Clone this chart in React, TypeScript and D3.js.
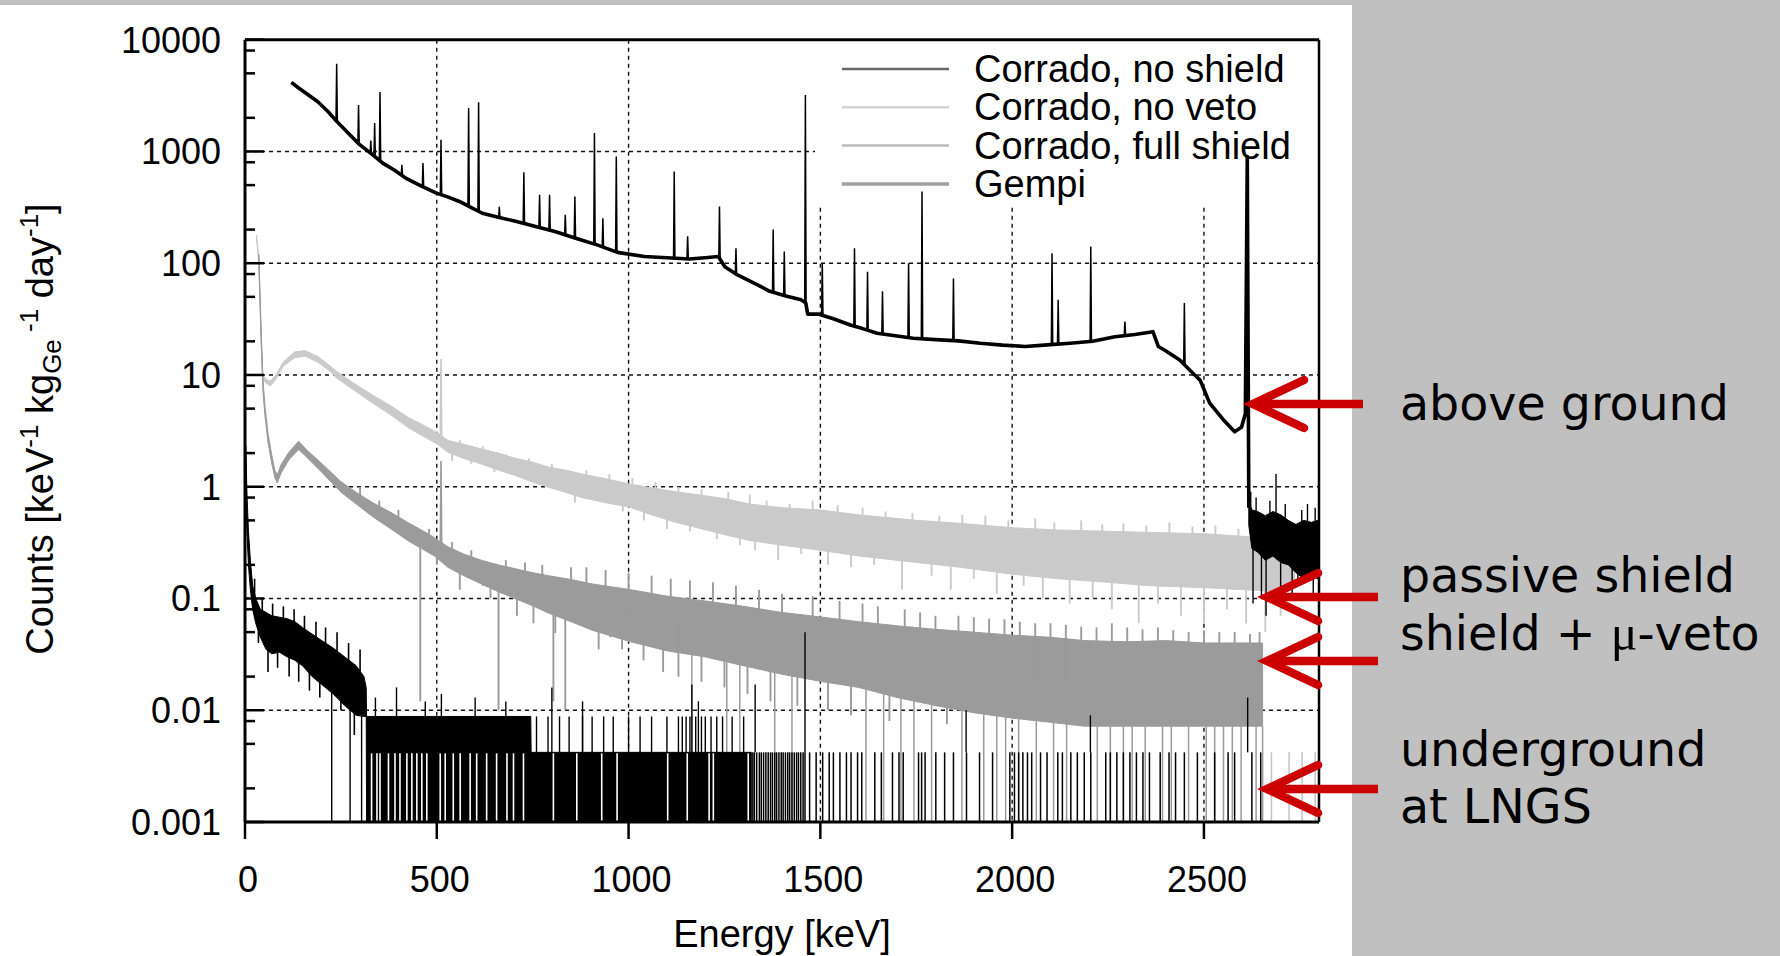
import React from 'react';
import * as d3 from 'd3';

// ---------- layout ----------
const W = 1780, H = 956;
const PL = 245, PR = 1319, PT = 39.7, PB = 822;

// ---------- axes / labels ----------
const X_DOMAIN: [number, number] = [0, 2800];
const Y_DOMAIN: [number, number] = [0.001, 10000];
const xTicks = [0, 500, 1000, 1500, 2000, 2500];
const yTicks = [0.001, 0.01, 0.1, 1, 10, 100, 1000, 10000];
const yTickLabels = ['0.001', '0.01', '0.1', '1', '10', '100', '1000', '10000'];
const minorMultipliers = [2, 5, 8];
const legendLabels = ['Corrado, no shield', 'Corrado, no veto', 'Corrado, full shield', 'Gempi'];
const legendColors = ['#6a6a6a', '#d4d4d4', '#bcbcbc', '#a0a0a0'];
const legendWidths = [2.5, 2.5, 2.5, 3.5];

// ---------- Corrado, no shield (above ground) ----------
const nsE = [121, 140, 160, 189, 215, 239, 270, 299, 330, 359, 390, 419, 460, 499, 530, 559, 590, 619, 660, 708, 760, 808, 860, 918, 971, 1041, 1100, 1158, 1200, 1234, 1251, 1280, 1310, 1340, 1368, 1410, 1450, 1462, 1467, 1496, 1532, 1578, 1610, 1648, 1700, 1742, 1812, 1860, 1917, 1975, 2034, 2092, 2151, 2210, 2268, 2320, 2367, 2381, 2396, 2437, 2472, 2490, 2515, 2550, 2580, 2598, 2608, 2613, 2617];
const nsV = [4150, 3700, 3300, 2800, 2300, 1860, 1450, 1150, 950, 787, 680, 577, 490, 424, 390, 357, 315, 280, 258, 236, 212, 192, 168, 146, 125, 115, 112, 109, 112, 115, 93, 80, 71, 63, 56, 51, 47, 44, 35, 35, 32, 28, 26, 23.6, 22.3, 21.3, 20.6, 20.2, 19.2, 18.5, 18, 18.6, 19.2, 20, 22, 23, 24.4, 18, 16.8, 13.6, 10.3, 9, 5.6, 4.0, 3.1, 3.4, 4.5, 900, 0.65];
const nsPeakE = [239, 296, 328, 338, 352, 409, 464, 511, 583, 609, 663, 727, 768, 794, 835, 860, 911, 933, 968, 1119, 1154, 1237, 1280, 1377, 1406, 1461, 1505, 1589, 1623, 1662, 1730, 1765, 1847, 2104, 2120, 2205, 2294, 2449];
const nsPeakV = [6100, 2600, 1250, 1800, 3400, 760, 790, 1270, 2450, 2750, 320, 650, 410, 410, 271, 395, 1460, 253, 900, 660, 174, 321, 136, 200, 127, 3200, 100, 136, 84, 56, 100, 438, 73, 123, 47, 141, 30, 44];
const nsTailE = [2617, 2625, 2640, 2660, 2680, 2700, 2720, 2740, 2760, 2780, 2798];
const nsTailLo = [0.45, 0.28, 0.26, 0.22, 0.24, 0.21, 0.2, 0.17, 0.15, 0.16, 0.15];
const nsTailHi = [0.75, 0.62, 0.6, 0.55, 0.6, 0.56, 0.5, 0.46, 0.5, 0.48, 0.5];
const nsTailSpikeE = [2622, 2628, 2636, 2650, 2662, 2672, 2688, 2700, 2712, 2730, 2745, 2755, 2770, 2785, 2790];
const nsTailSpikeV = [0.9, 0.09, 0.8, 0.1, 0.07, 0.75, 1.3, 0.12, 0.7, 0.11, 0.13, 0.62, 0.7, 0.1, 0.65];

// ---------- Corrado, no veto ----------
const nvE = [30, 36, 42, 46, 55, 66, 80, 100, 130, 157, 190, 220, 240, 280, 336, 380, 424, 470, 502, 529, 570, 616, 660, 704, 750, 791, 840, 878, 940, 1001, 1060, 1123, 1190, 1254, 1316, 1400, 1500, 1600, 1751, 1866, 2000, 2120, 2244, 2360, 2500, 2600, 2700, 2737];
const nvLo = [162, 105, 20.5, 9.2, 8.4, 8.0, 9.1, 12.0, 14.3, 14.7, 13.0, 10.9, 9.3, 7.5, 5.5, 4.4, 3.4, 2.76, 2.4, 2.03, 1.79, 1.6, 1.41, 1.26, 1.1, 0.99, 0.88, 0.8, 0.72, 0.66, 0.56, 0.48, 0.42, 0.37, 0.33, 0.3, 0.27, 0.24, 0.21, 0.19, 0.165, 0.15, 0.14, 0.13, 0.125, 0.12, 0.115, 0.13];
const nvHi = [178, 115, 23.6, 10, 9.2, 8.8, 9.9, 13.1, 16.1, 16.5, 14.6, 12.2, 10.7, 8.6, 6.5, 5.3, 4.2, 3.48, 3.03, 2.6, 2.4, 2.18, 2.0, 1.8, 1.66, 1.5, 1.4, 1.3, 1.18, 1.06, 0.98, 0.9, 0.84, 0.78, 0.7, 0.65, 0.62, 0.56, 0.5, 0.47, 0.43, 0.41, 0.4, 0.39, 0.38, 0.36, 0.34, 0.28];
const nvPeakE = [511];
const nvPeakV = [14];
const nvSpikeE = [540, 560, 590, 620, 650, 680, 720, 740, 770, 800, 830, 860, 890, 920, 950, 985, 1010, 1040, 1070, 1100, 1130, 1160, 1190, 1230, 1260, 1290, 1316, 1330, 1360, 1390, 1420, 1450, 1480, 1520, 1545, 1580, 1610, 1640, 1670, 1713, 1740, 1790, 1810, 1840, 1870, 1900, 1930, 1960, 1990, 2030, 2060, 2080, 2110, 2150, 2180, 2210, 2235, 2260, 2290, 2330, 2350, 2380, 2410, 2440, 2470, 2500, 2530, 2560, 2590, 2610, 2640, 2660, 2690, 2700, 2720];
const nvSpikeV = [1.7, 2.6, 1.6, 2.3, 1.35, 1.95, 1.2, 1.8, 1.05, 1.6, 0.9, 0.72, 1.4, 0.78, 1.3, 0.6, 1.2, 0.5, 1.1, 0.42, 1.0, 0.4, 0.95, 0.34, 0.9, 0.3, 0.85, 0.27, 0.75, 0.22, 0.7, 0.25, 0.75, 0.2, 0.68, 0.19, 0.65, 0.2, 0.6, 0.12, 0.58, 0.16, 0.55, 0.12, 0.56, 0.15, 0.55, 0.11, 0.5, 0.13, 0.52, 0.1, 0.48, 0.09, 0.5, 0.1, 0.46, 0.08, 0.47, 0.06, 0.45, 0.09, 0.48, 0.07, 0.44, 0.06, 0.45, 0.08, 0.42, 0.06, 0.4, 0.05, 0.38, 0.07, 0.35];
const nvZeroE = [2676, 2722, 2756, 2790];

// ---------- Corrado, full shield ----------
const fsE = [36, 42, 47, 52, 60, 70, 78, 84, 95, 115, 140, 160, 197, 249, 290, 336, 380, 424, 460, 494, 529, 570, 616, 660, 704, 750, 791, 850, 905, 1005, 1100, 1200, 1300, 1400, 1506, 1600, 1700, 1800, 1900, 2000, 2100, 2188, 2300, 2400, 2500, 2600, 2653];
const fsLo = [100, 20, 7, 4.3, 2.5, 1.6, 1.2, 1.08, 1.35, 1.75, 2.15, 1.85, 1.38, 0.9, 0.7, 0.53, 0.42, 0.33, 0.28, 0.24, 0.19, 0.16, 0.135, 0.115, 0.1, 0.086, 0.074, 0.062, 0.052, 0.041, 0.034, 0.03, 0.025, 0.021, 0.018, 0.016, 0.013, 0.011, 0.0095, 0.0085, 0.0078, 0.0072, 0.0072, 0.0072, 0.0072, 0.0072, 0.0072];
const fsHi = [120, 26, 9, 5.3, 3.0, 1.9, 1.4, 1.28, 1.6, 2.05, 2.55, 2.15, 1.65, 1.12, 0.89, 0.71, 0.59, 0.48, 0.41, 0.35, 0.29, 0.25, 0.22, 0.2, 0.185, 0.17, 0.16, 0.148, 0.135, 0.12, 0.105, 0.095, 0.085, 0.075, 0.068, 0.062, 0.057, 0.053, 0.05, 0.047, 0.045, 0.042, 0.041, 0.042, 0.04, 0.04, 0.04];
const fsPeakE = [511];
const fsPeakV = [1.7];
const fsSpikeE = [300, 320, 350, 370, 400, 430, 457, 480, 500, 540, 560, 590, 620, 640, 661, 680, 709, 730, 752, 775, 804, 809, 835, 850, 870, 890, 922, 940, 952, 983, 1000, 1039, 1060, 1090, 1110, 1130, 1160, 1190, 1220, 1250, 1280, 1310, 1340, 1370, 1400, 1440, 1480, 1520, 1550, 1580, 1610, 1650, 1680, 1720, 1760, 1800, 1830, 1860, 1900, 1940, 1980, 2020, 2060, 2100, 2140, 2180, 2220, 2260, 2300, 2340, 2380, 2420, 2460, 2500, 2540, 2580, 2620, 2645];
const fsSpikeV = [1.0, 0.6, 0.75, 0.45, 0.62, 0.32, 0.012, 0.42, 0.2, 0.32, 0.12, 0.27, 0.13, 0.1, 0.01, 0.22, 0.07, 0.21, 0.06, 0.2, 0.012, 0.049, 0.01, 0.19, 0.06, 0.19, 0.035, 0.18, 0.045, 0.035, 0.17, 0.028, 0.16, 0.022, 0.15, 0.02, 0.145, 0.018, 0.14, 0.016, 0.13, 0.014, 0.12, 0.012, 0.11, 0.011, 0.105, 0.01, 0.095, 0.009, 0.09, 0.085, 0.008, 0.08, 0.075, 0.07, 0.0075, 0.07, 0.068, 0.066, 0.065, 0.062, 0.06, 0.06, 0.058, 0.056, 0.055, 0.06, 0.055, 0.053, 0.055, 0.052, 0.05, 0.052, 0.05, 0.05, 0.048, 0.05];
const fsZeroE = [1165, 1256, 1290, 1381, 1426, 1619, 1665, 1710, 1744, 1790, 1869, 1926, 1960, 1983, 2017, 2063, 2108, 2142, 2222, 2256, 2290, 2313, 2347, 2392, 2415, 2460, 2506, 2528, 2551, 2574, 2597, 2636, 2653];

// ---------- Gempi (underground at LNGS) ----------
const geE = [2, 5, 9, 14, 20, 28, 40, 55, 70, 90, 110, 130, 150, 175, 200, 230, 260, 290, 310, 316, 317, 745, 746, 1320];
const geLo = [1.2, 0.4, 0.2, 0.12, 0.08, 0.06, 0.045, 0.035, 0.032, 0.033, 0.03, 0.028, 0.025, 0.02, 0.017, 0.014, 0.011, 0.009, 0.0088, 0.0088, 0.001, 0.001, 0.001, 0.001];
const geHi = [2.3, 0.9, 0.4, 0.22, 0.13, 0.1, 0.08, 0.075, 0.07, 0.068, 0.066, 0.062, 0.055, 0.048, 0.042, 0.036, 0.03, 0.025, 0.02, 0.016, 0.0088, 0.0088, 0.0042, 0.0042];
const geOneCount = 0.0042;
const geTwoCount = 0.0088;
const geLowSpikeE = [25, 35, 45, 60, 72, 85, 100, 115, 128, 140, 155, 168, 185, 195, 210, 240, 250, 270, 285, 300];
const geLowSpikeV = [0.15, 0.04, 0.1, 0.022, 0.09, 0.024, 0.085, 0.02, 0.08, 0.018, 0.07, 0.015, 0.062, 0.013, 0.055, 0.05, 0.01, 0.04, 0.006, 0.035];
const geGapE = [330, 344, 352, 374, 391, 404, 422, 435, 448, 461, 474, 509, 522, 543, 561, 587, 604, 630, 656, 683, 700, 726, 804, 865, 930, 970, 1102, 1153, 1210, 1221, 1312];
const geTwoE = [760, 790, 820, 845, 880, 905, 935, 960, 1000, 1030, 1060, 1100, 1130, 1140, 1150, 1160, 1175, 1190, 1200, 1215, 1230, 1245, 1270, 1300];
const geLineE = [1324, 1328, 1334, 1341, 1346, 1352, 1358, 1364, 1370, 1375, 1381, 1386, 1392, 1398, 1403, 1409, 1415, 1420, 1426, 1432, 1438, 1443, 1449, 1455, 1460, 1472, 1489, 1506, 1523, 1534, 1551, 1568, 1580, 1597, 1608, 1642, 1659, 1688, 1705, 1716, 1756, 1764, 1773, 1801, 1824, 1847, 1881, 1915, 1949, 1994, 2006, 2017, 2028, 2040, 2051, 2074, 2091, 2119, 2131, 2153, 2170, 2188, 2205, 2244, 2256, 2273, 2290, 2307, 2324, 2341, 2358, 2386, 2409, 2426, 2449, 2483, 2528, 2563, 2580, 2625, 2648];
const geDropE = [226, 274, 304];
const geSpikeE = [340, 395, 470, 512, 600, 680, 800, 880, 1165, 1182, 1330, 1460, 1880, 2204, 2614];
const geSpikeV = [0.013, 0.016, 0.012, 0.014, 0.013, 0.012, 0.016, 0.012, 0.017, 0.012, 0.017, 0.05, 0.01, 0.009, 0.013];

// ---------- annotations ----------
const annoLines = [
  { text: 'above ground', y: 420 },
  { text: 'passive shield', y: 592 },
  { text: 'shield + ', mu: true, y: 650 },
  { text: 'underground', y: 766 },
  { text: 'at LNGS', y: 823 },
];
const arrows = [
  { tip: [1253, 404], end: 1363 },
  { tip: [1267, 597], end: 1378 },
  { tip: [1267, 661], end: 1378 },
  { tip: [1267, 789], end: 1378 },
];

function interpLog(E: number, es: number[], vs: number[]) {
  let i = d3.bisectLeft(es, E);
  i = Math.max(1, Math.min(es.length - 1, i));
  const t = Math.max(0, Math.min(1, (E - es[i - 1]) / (es[i] - es[i - 1])));
  const a = Math.log10(vs[i - 1]), b = Math.log10(vs[i]);
  return Math.pow(10, a + t * (b - a));
}

export default function App() {
  const x = d3.scaleLinear().domain(X_DOMAIN).range([PL, PR]);
  const y = d3.scaleLog().domain(Y_DOMAIN).range([PB, PT]).clamp(true);
  const line = d3.line<[number, number]>().x(d => x(d[0])).y(d => y(d[1]));
  const area = d3.area<[number, number, number]>().x(d => x(d[0])).y0(d => y(d[1])).y1(d => y(d[2]));

  const band = (es: number[], lo: number[], hi: number[]) =>
    area(es.map((e, i) => [e, lo[i], hi[i]] as [number, number, number])) || '';
  const mid = (es: number[], lo: number[], hi: number[]) => es.map((_, i) => Math.sqrt(lo[i] * hi[i]));

  const nvMid = mid(nvE, nvLo, nvHi);
  const fsMid = mid(fsE, fsLo, fsHi);
  const geMid = mid(geE, geLo, geHi);
  const nsTailMid = mid(nsTailE, nsTailLo, nsTailHi);

  const spikes = (es: number[], vs: number[], me: number[], mv: number[]) =>
    es.map((e, i) => ({ x: x(e), y1: y(interpLog(e, me, mv)), y2: y(vs[i]) }));
  const peaks = (es: number[], vs: number[], me: number[], mv: number[], w: number) =>
    es.map((e, i) => {
      const base = interpLog(e, me, mv);
      return line([[e - w, base], [e, vs[i]], [e + w, base]]) || '';
    });

  const minorTicks: number[] = [];
  for (let d = 0.001; d < 9000; d *= 10) minorMultipliers.forEach(m => minorTicks.push(d * m));

  const font = "'Liberation Sans', Arial, Helvetica, sans-serif";
  const NV = '#cacaca', FS = '#9b9b9b';

  return (
    <svg width={W} height={H} viewBox={`0 0 ${W} ${H}`} style={{ position: 'absolute', left: 0, top: 0, background: '#fff' }}>
      <defs>
        <clipPath id="plot"><rect x={PL} y={PT} width={PR - PL} height={PB - PT} /></clipPath>
      </defs>
      {/* backgrounds */}
      <rect x={0} y={0} width={W} height={H} fill="#ffffff" />
      <rect x={1352} y={0} width={W - 1352} height={H} fill="#c0c0c0" />
      <rect x={0} y={0} width={1352} height={5} fill="#c0c0c0" />

      {/* grid */}
      <g stroke="#111" strokeWidth={1.4} strokeDasharray="4,4">
        {yTicks.slice(1, -1).map(t => <line key={'gy' + t} x1={PL} x2={PR} y1={y(t)} y2={y(t)} />)}
        {xTicks.slice(1).map(t => <line key={'gx' + t} x1={x(t)} x2={x(t)} y1={PT} y2={PB} />)}
      </g>
      {/* legend box hides grid */}
      <rect x={815} y={41} width={PR - 815} height={163} fill="#fff" />

      <g clipPath="url(#plot)">
        {/* no veto */}
        <path d={band(nvE, nvLo, nvHi)} fill={NV} stroke={NV} strokeWidth={1} />
        {spikes(nvSpikeE, nvSpikeV, nvE, nvMid).map((s, i) => <line key={'nvs' + i} x1={s.x} x2={s.x} y1={s.y1} y2={s.y2} stroke={NV} strokeWidth={1.9} />)}
        {peaks(nvPeakE, nvPeakV, nvE, nvMid, 2).map((d, i) => <path key={'nvp' + i} d={d} fill="none" stroke={NV} strokeWidth={1.6} />)}
        {nvZeroE.map((e, i) => <line key={'nvz' + i} x1={x(e)} x2={x(e)} y1={y(geOneCount)} y2={PB} stroke="#c4c4c4" strokeWidth={1.5} />)}

        {/* full shield */}
        <path d={band(fsE, fsLo, fsHi)} fill={FS} stroke={FS} strokeWidth={1} />
        {spikes(fsSpikeE, fsSpikeV, fsE, fsMid).map((s, i) => <line key={'fss' + i} x1={s.x} x2={s.x} y1={s.y1} y2={s.y2} stroke={FS} strokeWidth={1.9} />)}
        {peaks(fsPeakE, fsPeakV, fsE, fsMid, 2).map((d, i) => <path key={'fsp' + i} d={d} fill="none" stroke={FS} strokeWidth={1.6} />)}
        {fsZeroE.map((e, i) => <line key={'fsz' + i} x1={x(e)} x2={x(e)} y1={y(interpLog(e, fsE, fsLo))} y2={PB} stroke={FS} strokeWidth={1.5} />)}

        {/* Gempi */}
        <path d={band(geE, geLo, geHi)} fill="#000" stroke="#000" strokeWidth={1} />
        {spikes(geLowSpikeE, geLowSpikeV, geE, geMid).map((s, i) => <line key={'gls' + i} x1={s.x} x2={s.x} y1={s.y1} y2={s.y2} stroke="#000" strokeWidth={1.6} />)}
        {geGapE.map((e, i) => <line key={'geg' + i} x1={x(e)} x2={x(e)} y1={PB} y2={y(geOneCount) + 1} stroke="#fff" strokeWidth={1.6} />)}
        {geTwoE.map((e, i) => <line key={'get' + i} x1={x(e)} x2={x(e)} y1={y(geOneCount)} y2={y(geTwoCount)} stroke="#000" strokeWidth={1.4} />)}
        {geLineE.map((e, i) => <line key={'gel' + i} x1={x(e)} x2={x(e)} y1={PB} y2={y(geOneCount)} stroke="#000" strokeWidth={1.5} />)}
        {geDropE.map((e, i) => <line key={'ged' + i} x1={x(e)} x2={x(e)} y1={PB} y2={y(interpLog(e, geE, geLo))} stroke="#000" strokeWidth={1.4} />)}
        {geSpikeE.map((e, i) => <line key={'ges' + i} x1={x(e)} x2={x(e)} y1={y(geOneCount)} y2={y(geSpikeV[i])} stroke="#000" strokeWidth={1.4} />)}

        {/* no shield */}
        <path d={line(nsE.map((e, i) => [e, nsV[i]] as [number, number])) || ''} fill="none" stroke="#000" strokeWidth={3.6} strokeLinejoin="round" />
        {peaks(nsPeakE, nsPeakV, nsE, nsV, 1.8).map((d, i) => <path key={'nsp' + i} d={d} fill="none" stroke="#000" strokeWidth={1.5} />)}
        <path d={band(nsTailE, nsTailLo, nsTailHi)} fill="#000" stroke="#000" strokeWidth={1} />
        {spikes(nsTailSpikeE, nsTailSpikeV, nsTailE, nsTailMid).map((s, i) => <line key={'nts' + i} x1={s.x} x2={s.x} y1={s.y1} y2={s.y2} stroke="#000" strokeWidth={1.4} />)}
      </g>

      {/* legend */}
      <g fontFamily={font} fontSize={38}>
        {legendLabels.map((l, i) => {
          const ly = 69 + i * 38.3;
          return (
            <g key={l}>
              <line x1={842} x2={949} y1={ly} y2={ly} stroke={legendColors[i]} strokeWidth={legendWidths[i]} />
              <text x={974} y={ly + 13} fill="#000">{l}</text>
            </g>
          );
        })}
      </g>

      {/* axes frame */}
      <g stroke="#000" fill="none">
        <line x1={PL} x2={PR} y1={PT} y2={PT} strokeWidth={3} />
        <line x1={PL} x2={PR} y1={PB} y2={PB} strokeWidth={3} />
        <line x1={PL} x2={PL} y1={PT} y2={PB} strokeWidth={3} />
        <line x1={PR} x2={PR} y1={PT} y2={PB} strokeWidth={2.5} />
        {yTicks.map(t => <line key={'ty' + t} x1={PL} x2={PL + 19} y1={y(t)} y2={y(t)} strokeWidth={2.5} />)}
        {minorTicks.map((t, i) => <line key={'tm' + i} x1={PL} x2={PL + 10} y1={y(t)} y2={y(t)} strokeWidth={2.5} />)}
        {xTicks.map(t => <line key={'tx' + t} x1={x(t)} x2={x(t)} y1={PB} y2={PB + 17} strokeWidth={2.5} />)}
      </g>

      {/* tick labels */}
      <g fontFamily={font} fontSize={36} fill="#000">
        {yTicks.map((t, i) => <text key={'ly' + t} x={221} y={y(t) + 13} textAnchor="end">{yTickLabels[i]}</text>)}
        {xTicks.map(t => <text key={'lx' + t} x={x(t) + 3} y={892} textAnchor="middle">{String(t)}</text>)}
      </g>

      {/* axis titles */}
      <text x={(PL + PR) / 2} y={947} textAnchor="middle" fontFamily={font} fontSize={38} fill="#000">Energy [keV]</text>
      <text transform="translate(53,429) rotate(-90)" textAnchor="middle" fontFamily={font} fontSize={38} fill="#000">
        Counts [keV<tspan dy={-15} fontSize={26}>-1</tspan>
        <tspan dy={15}> kg</tspan>
        <tspan dy={8} fontSize={26}>Ge</tspan>
        <tspan dy={-23} fontSize={26}> -1</tspan>
        <tspan dy={15}> day</tspan>
        <tspan dy={-15} fontSize={26}>-1</tspan>
        <tspan dy={15}>]</tspan>
      </text>

      {/* annotations */}
      <g fontFamily="'DejaVu Sans', Verdana, sans-serif" fontSize={47.5} fill="#000">
        {annoLines.map((a, i) => (
          <text key={'an' + i} x={1400} y={a.y}>
            {a.text}
            {a.mu ? <tspan fontFamily="'Liberation Serif', 'DejaVu Serif', serif" fontSize={50}>μ</tspan> : null}
            {a.mu ? '-veto' : null}
          </text>
        ))}
      </g>
      <g stroke="#cc0000" strokeWidth={8.5} fill="none" strokeLinecap="round">
        {arrows.map((a, i) => (
          <g key={'ar' + i}>
            <line x1={a.tip[0] + 2} x2={a.end} y1={a.tip[1]} y2={a.tip[1]} strokeLinecap="butt" />
            <polyline points={`${a.tip[0] + 51},${a.tip[1] - 24} ${a.tip[0]},${a.tip[1]} ${a.tip[0] + 51},${a.tip[1] + 24}`} strokeLinejoin="miter" />
          </g>
        ))}
      </g>
    </svg>
  );
}
